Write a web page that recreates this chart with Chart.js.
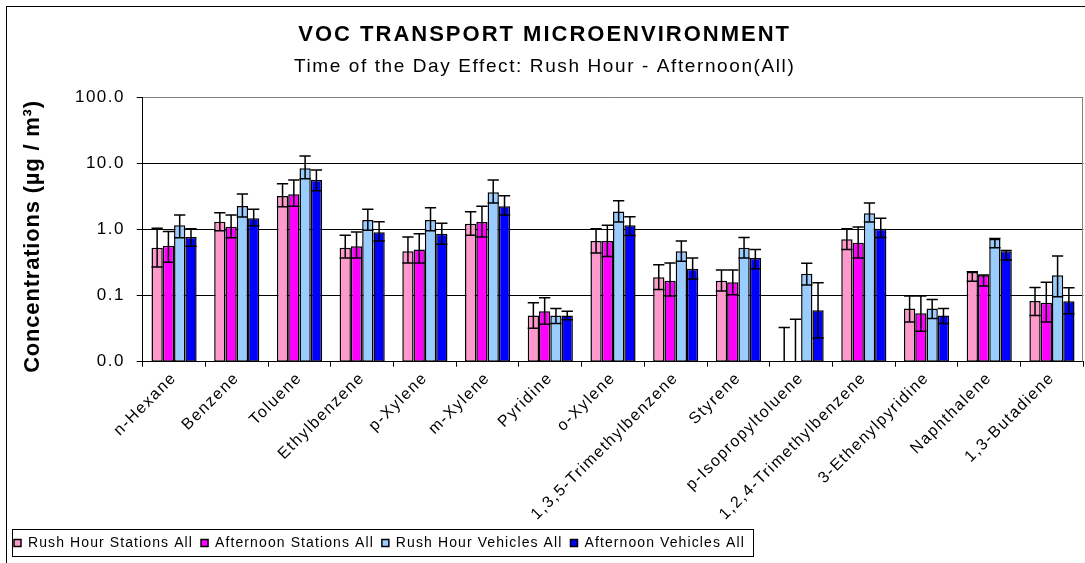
<!DOCTYPE html>
<html>
<head>
<meta charset="utf-8">
<script src="https://cdn.jsdelivr.net/npm/chart.js@4.4.1/dist/chart.umd.min.js"></script>
<style>
  html, body { margin: 0; padding: 0; background: #fff; }
  canvas { display: block; }
</style>
</head>
<body>
<canvas id="chart" width="1085" height="563"></canvas>
<script>
// Compounds on the category axis
const categories = [
  'n-Hexane', 'Benzene', 'Toluene', 'Ethylbenzene', 'p-Xylene', 'm-Xylene', 'Pyridine',
  'o-Xylene', '1,3,5-Trimethylbenzene', 'Styrene', 'p-Isopropyltoluene',
  '1,2,4-Trimethylbenzene', '3-Ethenylpyridine', 'Naphthalene', '1,3-Butadiene'
];

const seriesNames = [
  'Rush Hour Stations All', 'Afternoon Stations All',
  'Rush Hour Vehicles All', 'Afternoon Vehicles All'
];

// Mean concentrations (µg/m³); null = below the plotted range
const rushStations      = [0.53, 1.31, 3.21, 0.53, 0.47, 1.22, 0.050, 0.67, 0.189, 0.168, null,  0.71, 0.064, 0.228, 0.083];
const afternoonStations = [0.57, 1.10, 3.41, 0.56, 0.50, 1.30, 0.058, 0.67, 0.168, 0.159, null,  0.63, 0.054, 0.203, 0.078];
const rushVehicles      = [1.16, 2.27, 8.43, 1.39, 1.39, 3.65, 0.050, 1.88, 0.47,  0.53,  0.215, 1.76, 0.064, 0.72,  0.203];
const afternoonVehicles = [0.77, 1.48, 5.61, 0.91, 0.86, 2.24, 0.050, 1.16, 0.255, 0.37,  0.060, 1.03, 0.050, 0.47,  0.082];

// Error bar ends (upper / lower); null lower = runs to the axis floor
const rushStationsHigh      = [1.04, 1.80, 4.93, 0.82, 0.77, 1.86, 0.078, 1.03, 0.294, 0.244, 0.033, 1.03, 0.099, 0.230, 0.133];
const rushStationsLow       = [0.27, 0.96, 2.21, 0.37, 0.31, 0.82, 0.032, 0.44, 0.124, 0.117, null,  0.50, 0.040, 0.165, 0.050];
const afternoonStationsHigh = [0.93, 1.66, 5.61, 0.92, 0.86, 2.24, 0.093, 1.16, 0.310, 0.244, 0.044, 1.09, 0.099, 0.205, 0.159];
const afternoonStationsLow  = [0.32, 0.75, 2.24, 0.37, 0.31, 0.77, 0.037, 0.39, 0.099, 0.103, null,  0.37, 0.029, 0.140, 0.040];
const rushVehiclesHigh      = [1.66, 3.44, 12.9, 2.02, 2.14, 5.61, 0.064, 2.73, 0.67,  0.76,  0.308, 2.52, 0.087, 0.73,  0.397];
const rushVehiclesLow       = [0.75, 1.55, 5.87, 0.97, 0.96, 2.52, 0.038, 1.30, 0.33,  0.37,  0.145, 1.30, 0.045, 0.53,  0.096];
const afternoonVehiclesHigh = [1.03, 2.02, 7.94, 1.31, 1.24, 3.25, 0.058, 1.56, 0.37,  0.50,  0.157, 1.48, 0.064, 0.48,  0.132];
const afternoonVehiclesLow  = [0.56, 1.14, 3.86, 0.67, 0.60, 1.66, 0.043, 0.81, 0.178, 0.255, 0.0228, 0.76, 0.038, 0.346, 0.053];

// Decade ticks of the log axis
const yTicks = [0.01, 0.1, 1, 10, 100];

const FONT = 'Arial, "Liberation Sans", sans-serif';
const colors = ['#FF99CC', '#FF00FF', '#99CCFF', '#0000FF'];
const means = [rushStations, afternoonStations, rushVehicles, afternoonVehicles];
const highs = [rushStationsHigh, afternoonStationsHigh, rushVehiclesHigh, afternoonVehiclesHigh];
const lows  = [rushStationsLow, afternoonStationsLow, rushVehiclesLow, afternoonVehiclesLow];

const datasets = seriesNames.map((name, i) => ({
  label: name,
  data: means[i],
  errHigh: highs[i],
  errLow: lows[i],
  backgroundColor: colors[i],
  borderColor: '#000',
  borderWidth: 1.5,
  borderSkipped: false
}));

// Wraps a method so the canvas draws its text with extra tracking
// (and an optional vertical shift)
function tracked(obj, method, px, dy) {
  const orig = obj[method];
  obj[method] = function (...args) {
    const c = this.ctx || (this.chart && this.chart.ctx);
    const prev = c.letterSpacing;
    c.save();
    if (dy) c.translate(0, dy);
    c.letterSpacing = px + 'px';
    try { return orig.apply(this, args); } finally { c.restore(); c.letterSpacing = prev; }
  };
}

const textTracking = {
  id: 'textTracking',
  beforeLayout(chart) {
    if (chart.$tracked) return;
    chart.$tracked = true;
    const title = chart.titleBlock;
    chart.boxes.forEach(box => {
      if (title && box.constructor === title.constructor && box !== title) tracked(box, 'draw', 1.6);
    });
    if (title) tracked(title, 'draw', 2);
    tracked(chart.legend, 'fit', 1.1);
    tracked(chart.legend, 'draw', 1.1);
    tracked(chart.scales.x, 'draw', 1.5);
    tracked(chart.scales.y, 'draw', 1.5);
    tracked(chart.scales.y, 'drawTitle', 0.8, 7);
  }
};

// Outer chart frame, plot-area border and legend box
const frame = {
  id: 'frame',
  beforeDraw(chart) {
    const { ctx } = chart;
    ctx.save();
    ctx.fillStyle = '#fff';
    ctx.fillRect(0, 0, chart.width, chart.height);
    ctx.strokeStyle = '#000';
    ctx.lineWidth = 1;
    ctx.strokeRect(6.5, 6.5, chart.width + 20, chart.height + 20);
    ctx.restore();
  },
  beforeDatasetsDraw(chart) {
    const { ctx, chartArea: a } = chart;
    ctx.save();
    ctx.strokeStyle = '#808080';
    ctx.lineWidth = 1;
    ctx.beginPath();
    ctx.moveTo(Math.round(a.right) - 0.5, a.top);
    ctx.lineTo(Math.round(a.right) - 0.5, a.bottom);
    ctx.stroke();
    ctx.restore();
  },
  afterDraw(chart) {
    const hb = chart.legend && chart.legend.legendHitBoxes;
    if (!hb || !hb.length) return;
    const { ctx } = chart;
    const left = Math.min(...hb.map(h => h.left)) - 2.5;
    const right = Math.max(...hb.map(h => h.left + h.width)) + 8;
    const top = hb[0].top - 7;
    const bottom = hb[0].top + hb[0].height + 6;
    ctx.save();
    ctx.strokeStyle = '#000';
    ctx.lineWidth = 1;
    ctx.strokeRect(Math.round(left) + 0.5, Math.round(top) + 0.5, Math.round(right - left), Math.round(bottom - top));
    ctx.restore();
  }
};

// Black error bars with caps, on top of the bars
const errorBars = {
  id: 'errorBars',
  afterDatasetsDraw(chart) {
    const { ctx } = chart;
    const y = chart.scales.y;
    ctx.save();
    ctx.strokeStyle = '#000';
    ctx.lineWidth = 1.5;
    chart.data.datasets.forEach((ds, i) => {
      const meta = chart.getDatasetMeta(i);
      meta.data.forEach((bar, j) => {
        const hi = ds.errHigh[j];
        const lo = ds.errLow[j];
        if (hi == null) return;
        const x = bar.x;
        const half = bar.width / 2;
        const yHi = y.getPixelForValue(hi);
        const yLo = lo == null ? y.bottom : y.getPixelForValue(lo);
        ctx.beginPath();
        ctx.moveTo(x, yHi);
        ctx.lineTo(x, yLo);
        ctx.moveTo(x - half, yHi);
        ctx.lineTo(x + half, yHi);
        if (lo != null) {
          ctx.moveTo(x - half, yLo);
          ctx.lineTo(x + half, yLo);
        }
        ctx.stroke();
      });
    });
    ctx.restore();
  }
};

new Chart(document.getElementById('chart'), {
  type: 'bar',
  data: { labels: categories, datasets },
  options: {
    responsive: false,
    animation: false,
    devicePixelRatio: 1,
    layout: { padding: { left: 6, right: 1.7, top: 8, bottom: 3 } },
    datasets: { bar: { categoryPercentage: 0.72, barPercentage: 1.0 } },
    scales: {
      x: {
        grid: { display: true, drawOnChartArea: false, drawTicks: true, tickLength: 5, color: '#000', offset: true },
        border: { display: true, color: '#000', width: 1 },
        ticks: { minRotation: 45, maxRotation: 45, autoSkip: false, color: '#000', padding: 2,
                 font: { family: FONT, size: 16 } },
        afterFit(s) { s.height = 166.3; s.paddingLeft = 0; s.paddingRight = 0; }
      },
      y: {
        type: 'logarithmic',
        min: 0.01,
        max: 100,
        afterBuildTicks(s) { s.ticks = yTicks.map(v => ({ value: v })); },
        ticks: { callback: v => Number(v).toFixed(1), color: '#000', padding: 11.7,
                 font: { family: FONT, size: 17 } },
        grid: { color: c => (c.tick && c.tick.value === 100) ? '#808080' : '#000',
                tickColor: '#000', tickLength: 6, drawTicks: true },
        border: { display: true, color: '#000', width: 1 },
        title: { display: true, text: 'Concentrations (µg / m³)', color: '#000',
                 font: { family: FONT, size: 22, weight: 'bold' }, padding: { top: 13.8, bottom: 0 } },
        afterFit(s) { s.width = 136.7; }
      }
    },
    plugins: {
      title: {
        display: true,
        text: 'VOC TRANSPORT MICROENVIRONMENT',
        color: '#000',
        font: { family: FONT, size: 22, weight: 'bold' },
        padding: { top: 13.3, bottom: 7.4 }
      },
      subtitle: {
        display: true,
        text: 'Time of the Day Effect: Rush Hour - Afternoon(All)',
        color: '#000',
        font: { family: FONT, size: 19 },
        padding: { top: 0, bottom: 19.4 }
      },
      legend: {
        position: 'bottom',
        align: 'start',
        labels: { boxWidth: 7, boxHeight: 7, padding: 8, color: '#000', font: { family: FONT, size: 14 } }
      },
      tooltip: { enabled: false }
    }
  },
  plugins: [textTracking, frame, errorBars]
});
</script>
</body>
</html>
